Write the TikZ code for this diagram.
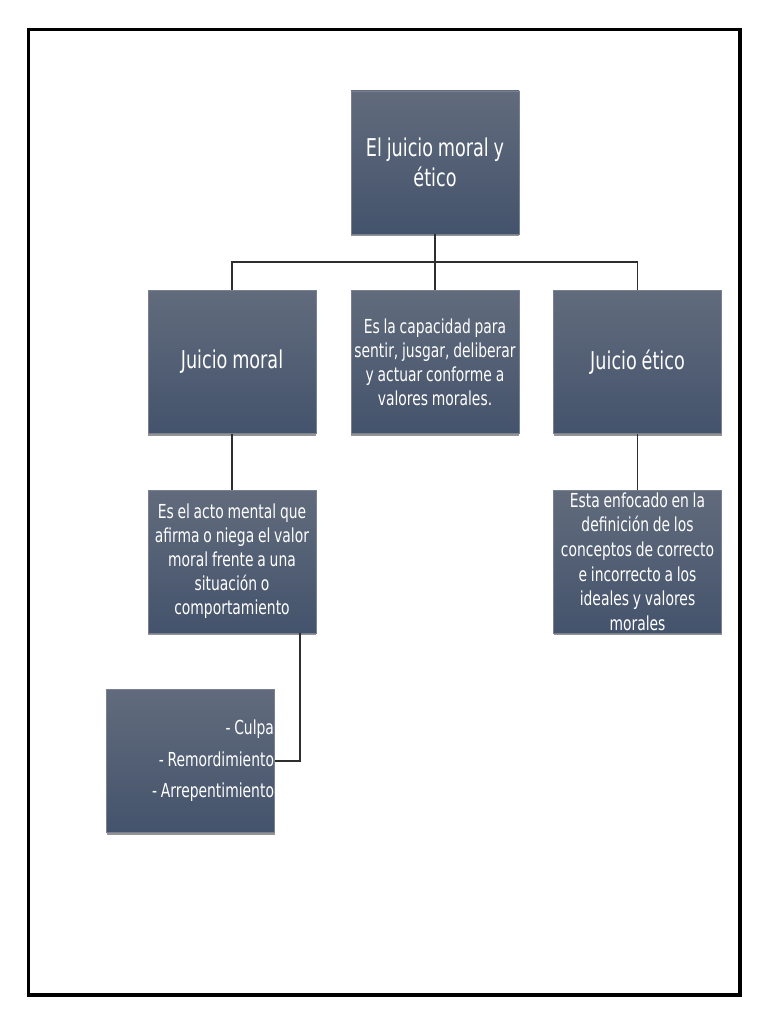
\documentclass[tikz,border=0pt]{standalone}
\usepackage{fontspec}
\setmainfont[FakeStretch=0.72, WordSpace=0.85]{DejaVu Sans}
\usetikzlibrary{shadows}
\definecolor{boxtop}{HTML}{616B7C}
\definecolor{boxbot}{HTML}{44536C}
\definecolor{linec}{HTML}{2E2E2E}
\begin{document}
\begin{tikzpicture}[x=1pt,y=-1pt,
  box/.style={rectangle, inner sep=0pt, minimum width=168pt, minimum height=143pt,
    top color=boxtop, bottom color=boxbot, draw=boxtop!85!white, line width=0.4pt,
    text=white, align=flush center, text width=168pt,
    font=\fontsize{19.3}{24}\selectfont,
    drop shadow={shadow xshift=0pt, shadow yshift=-2pt, fill=black!60, opacity=0.7}},
  big/.style={font=\fontsize{24.5}{30}\selectfont},
  conn/.style={draw=linec, line width=1.3pt}]
\useasboundingbox (0,0) rectangle (768,1024);
\draw[line width=3.5pt] (28.3,29.3) rectangle (740,995);

\node[box, big] (top) at (435,162.5) {El juicio moral y\\ ético};
\node[box, big] (moral) at (232,362) {Juicio moral};
\node[box] (cap) at (435,362) {Es la capacidad para\\ sentir, jusgar, deliberar\\ y actuar conforme a\\ valores morales.};
\node[box, big] (etico) at (637.5,362) {Juicio ético};
\node[box] (lchild) at (232,561.5) {Es el acto mental que\\ afirma o niega el valor\\ moral frente a una\\ situación o\\ comportamiento};
\node[box, font=\fontsize{19.3}{24.6}\selectfont] (rchild) at (637.5,561.5) {Esta enfocado en la\\ definición de los\\ conceptos de correcto\\ e incorrecto a los\\ ideales y valores\\ morales};
\node[box, align=flush right, text width=167pt, font=\fontsize{19.3}{31.5}\selectfont] (list) at (190.5,761) {- Culpa\\ - Remordimiento\\ - Arrepentimiento};

\coordinate (j) at (435,262);
\draw[conn] (top.south) -- (j);
\draw[conn] (moral.north) -- (moral.north |- j) -- (etico.north |- j) -- (etico.north);
\draw[conn] (j) -- (cap.north);
\draw[conn] (moral.south) -- (lchild.north);
\draw[conn] (etico.south) -- (rchild.north);
\coordinate (lc) at ([xshift=68pt]lchild.south);
\draw[conn] (lc) |- (list.east);
\end{tikzpicture}
\end{document}
